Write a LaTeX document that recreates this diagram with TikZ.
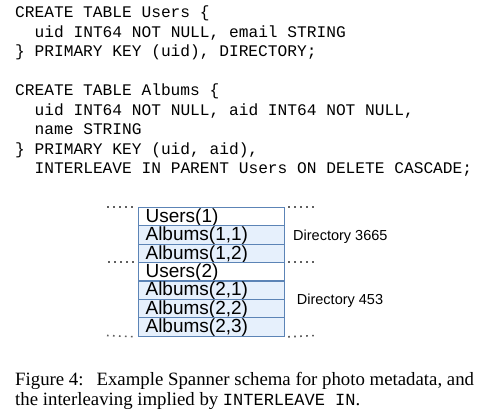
\documentclass[tikz,border=0pt]{standalone}
\usepackage{fontspec}
\setmainfont{Liberation Serif}
\setsansfont{Liberation Sans}
\setmonofont{Liberation Mono}
\definecolor{rowline}{HTML}{5C84B6}
\definecolor{rowblue}{HTML}{E6F0FC}
\definecolor{dotgray}{HTML}{606060}
\tikzset{
  code/.style={anchor=base west, inner sep=0pt, font=\ttfamily\fontsize{16.2}{19}\selectfont},
  row/.style={draw=rowline, line width=1.2pt, anchor=north west, inner ysep=0pt, inner xsep=7.3pt,
     text width=131.7pt, align=left, text height=15pt, text depth=3.5pt,
     font=\sffamily\fontsize{19}{19}\selectfont},
  urow/.style={row, fill=white},
  arow/.style={row, fill=rowblue},
  dir/.style={anchor=base west, inner sep=0pt, font=\sffamily\fontsize{14.5}{15}\selectfont},
  captext/.style={anchor=base west, inner sep=0pt, font=\rmfamily\fontsize{18.8}{20}\selectfont},
  dots/.style={dotgray, line width=1.6pt, dash pattern=on 1.6pt off 4.4pt},
}
\begin{document}
\begin{tikzpicture}[x=1pt,y=-1pt]
\useasboundingbox (0,0) rectangle (486,414);
% code
\node[code] (l1) at (15,18) {CREATE TABLE Users \{};
\node[code] (l2) at (34.5,37.5) {uid INT64 NOT NULL, email STRING};
\node[code] (l3) at (15,57) {\} PRIMARY KEY (uid), DIRECTORY;};
\node[code] (l5) at (15,96) {CREATE TABLE Albums \{};
\node[code] (l6) at (34.5,115.4) {uid INT64 NOT NULL, aid INT64 NOT NULL,};
\node[code] (l7) at (34.5,134.8) {name STRING};
\node[code] (l8) at (15,154.2) {\} PRIMARY KEY (uid, aid),};
\node[code] (l9) at (34.5,173.6) {INTERLEAVE IN PARENT Users ON DELETE CASCADE;};
% rows
\node[urow] (r1) at (137.7,206.7) {Users(1)};
\node[arow] (r2) at (137.7,225.1) {Albums(1,1)};
\node[arow] (r3) at (137.7,243.5) {Albums(1,2)};
\node[urow] (r4) at (137.7,261.9) {Users(2)};
\node[arow] (r5) at (137.7,280.3) {Albums(2,1)};
\node[arow] (r6) at (137.7,298.7) {Albums(2,2)};
\node[arow] (r7) at (137.7,317.1) {Albums(2,3)};
% dotted separators
\coordinate (d1l) at (107,206.7);
\coordinate (d1r) at (316,206.7);
\coordinate (d2l) at (108,261.9);
\coordinate (d2r) at (317,261.9);
\coordinate (d3l) at (107,335.5);
\coordinate (d3r) at (316,335.5);
\draw[dots] (d1l) -- ([xshift=-1pt]r1.north west);
\draw[dots] ([xshift=3pt]r1.north east) -- (d1r);
\draw[dots] (d2l) -- ([xshift=-1pt]r4.north west);
\draw[dots] ([xshift=3pt]r4.north east) -- (d2r);
\draw[dots] (d3l) -- ([xshift=-1pt]r7.south west);
\draw[dots] ([xshift=3pt]r7.south east) -- (d3r);
% directory labels
\node[dir] (dA) at (293,240.7) {Directory 3665};
\node[dir] (dB) at (296.7,304) {Directory 453};
% caption
\node[captext] (c1) at (15,385) {Figure 4:\hspace{13pt}Example Spanner schema for photo metadata, and};
\node[captext] (c2) at (15,405.7) {the interleaving implied by {\ttfamily\fontsize{17}{20}\selectfont INTERLEAVE IN}.};
\end{tikzpicture}
\end{document}
